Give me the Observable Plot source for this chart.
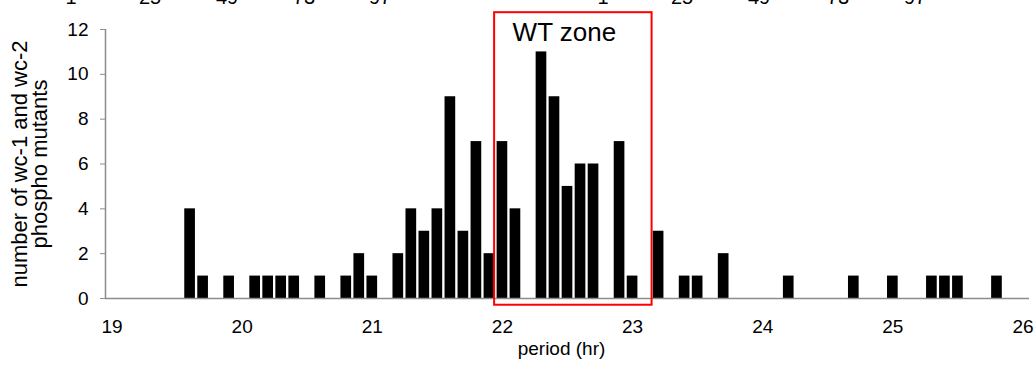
<!DOCTYPE html>
<html><head><meta charset="utf-8">
<script src="https://cdn.jsdelivr.net/npm/d3@7"></script>
<script src="https://cdn.jsdelivr.net/npm/@observablehq/plot@0.6"></script>
<style>
body{margin:0;background:#fff;}
#wrap{position:relative;width:1036px;height:370px;overflow:hidden;font-family:"Liberation Sans",Arial,sans-serif;}
#toprow span{position:absolute;top:-13px;font-size:20px;line-height:20px;transform:translateX(-50%);color:#000;}
#chart{position:absolute;left:0;top:0;}
</style></head><body><div id="wrap"><div id="chart"></div><div id="toprow"></div></div>
<script>
// data
const periods = [19.6,19.7,19.9,20.1,20.2,20.3,20.4,20.6,20.8,20.9,21.0,21.2,21.3,21.4,21.5,21.6,21.7,21.8,21.9,22.0,22.1,22.3,22.4,22.5,22.6,22.7,22.9,23.0,23.2,23.4,23.5,23.7,24.2,24.7,25.0,25.3,25.4,25.5,25.8];
const counts  = [4,1,1,1,1,1,1,1,1,2,1,2,4,3,4,9,3,7,2,7,4,11,9,5,6,6,7,1,3,1,1,2,1,1,1,1,1,1,1];
const xTicks = [19,20,21,22,23,24,25,26];
const yTicks = [0,2,4,6,8,10,12];
const yLabelLines = ["number of wc-1 and wc-2","phospho mutants"];
const xLabel = "period (hr)";
const zoneLabel = "WT zone";
const zoneX = [21.94, 23.15];
const zoneY = [-0.3, 12.75];
const topLabels = ["1","25","49","73","97","1","25","49","73","97"];

// layout
const topLabelPx = [71,150,227,304,380,603,682,759,838,915];
const font = '"Liberation Sans", Arial, sans-serif';
const halfBar = 0.041;
const axisGray = "#8c8c8c";

const data = periods.map((p, i) => ({period: p, count: counts[i]}));

const chart = Plot.plot({
  width: 1036, height: 370,
  marginLeft: 105, marginRight: 7, marginTop: 29, marginBottom: 72,
  style: {fontFamily: font, fontSize: "19px", color: "#000", background: "transparent"},
  x: {domain: [18.95, 26.05]},
  y: {domain: [0, 12]},
  marks: [
    Plot.rectY(data, {x1: d => d.period - halfBar, x2: d => d.period + halfBar, y: "count", fill: "#000"}),
    Plot.ruleY([0], {stroke: axisGray, strokeWidth: 1.5}),
    Plot.ruleX([18.95], {y1: 0, y2: 12, stroke: axisGray, strokeWidth: 1.5}),
    Plot.axisY({ticks: yTicks, tickSize: 5, tickPadding: 12, stroke: axisGray, label: null, fontSize: 19}),
    Plot.axisX({ticks: xTicks, tickSize: 0, tickPadding: 21, label: null, fontSize: 19}),
    Plot.text([xLabel], {frameAnchor: "bottom", dy: 50, dx: -6, lineAnchor: "middle", fontSize: 19}),
    Plot.text([yLabelLines.join("\n")], {frameAnchor: "left", textAnchor: "middle", rotate: -90, dx: -75, lineAnchor: "middle", fontSize: 22, lineHeight: 0.92, ariaLabel: "ylabel"}),
    Plot.rect([{x1: zoneX[0], x2: zoneX[1], y1: zoneY[0], y2: zoneY[1]}], {x1: "x1", x2: "x2", y1: "y1", y2: "y2", fill: "none", stroke: "#ff0000", strokeWidth: 2}),
    Plot.text([zoneLabel], {x: () => zoneX[0], y: () => zoneY[1], dx: 18, dy: 20, textAnchor: "start", lineAnchor: "middle", fontSize: 26})
  ]
});
document.getElementById("chart").appendChild(chart);

// italic "wc" in the y label
d3.select(chart).selectAll('g[aria-label="ylabel"] tspan').each(function() {
  const t = d3.select(this);
  const s = t.text();
  t.text(null);
  s.split(/(wc)/).forEach(part => {
    if (!part) return;
    const sp = t.append("tspan").text(part);
    if (part === "wc") sp.attr("font-style", "italic");
  });
});

// clipped labels from the panel above
const topRow = d3.select("#toprow");
topLabels.forEach((s, i) => topRow.append("span").style("left", topLabelPx[i] + "px").text(s));
</script>
</body></html>
